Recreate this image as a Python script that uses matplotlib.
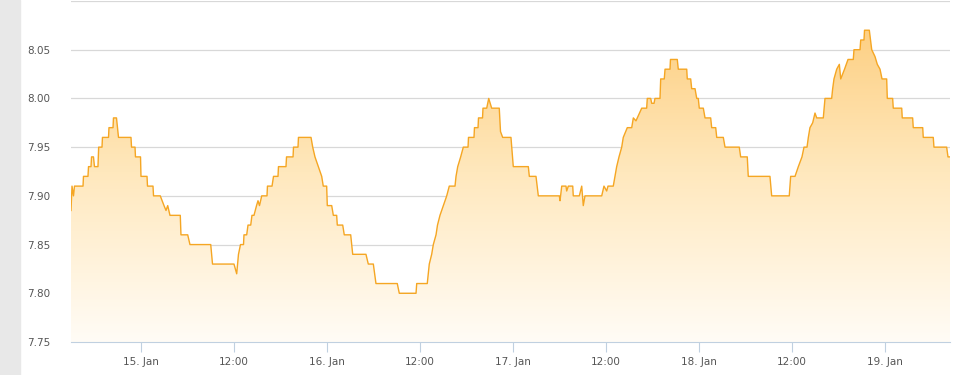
import numpy as np
import matplotlib.pyplot as plt
from matplotlib.patches import Rectangle
from matplotlib.colors import LinearSegmentedColormap

# hours since 14 Jan 15:00, and the reading at that time
hours = [
    0.00, 0.13, 0.32, 0.45, 1.55, 1.61, 2.19, 2.26, 2.58, 2.65, 2.90, 3.03, 3.48, 3.57, 4.00,
    4.06, 4.84, 4.90, 5.42, 5.48, 5.87, 6.13, 7.74, 7.81, 8.26, 8.32, 8.97, 9.03, 9.81, 9.87,
    10.58, 10.65, 11.52, 12.00, 12.26, 12.48, 12.77, 14.10, 14.19, 15.06, 15.35,
    18.03, 18.26, 21.03, 21.38, 21.61, 21.87, 22.26, 22.32, 22.67, 22.84, 23.19, 23.35, 23.61,
    23.94, 24.13, 24.32, 24.61, 25.29, 25.35, 25.94, 26.13, 26.71, 26.77, 27.74, 27.81, 28.65,
    28.71, 29.29, 29.35, 30.97,
    31.19, 31.48, 31.91, 32.35, 32.55, 32.99, 33.07, 33.64, 33.85, 34.28, 34.36, 35.06, 35.26,
    36.09, 36.35, 38.06, 38.36, 39.01, 39.35, 42.10, 42.36, 44.52, 44.61, 45.97, 46.23, 46.54,
    46.75, 47.10, 47.29, 47.61, 48.04, 48.48, 48.81, 49.55, 49.68, 49.90, 50.28, 50.62, 51.23,
    51.29, 52.00, 52.06, 52.52, 52.58, 53.10, 53.16, 53.64, 53.90, 54.28, 55.26, 55.42, 55.70,
    56.77, 57.07, 59.01, 59.14, 60.00, 60.30, 63.01,
    63.10, 63.32, 63.87, 63.96, 64.17, 64.74, 64.81, 65.59, 65.90, 66.10, 66.32, 68.48, 68.77,
    69.12, 69.29, 69.97, 70.19, 70.41, 70.71, 71.06, 71.26, 71.78, 72.35, 72.56, 72.90, 73.07,
    73.64, 74.28, 74.36, 74.80, 74.93, 75.23, 75.35, 76.00, 76.09, 76.55, 76.65, 77.29, 77.35,
    78.23,
    78.36, 79.45, 79.52, 79.96, 80.09, 80.52, 80.74, 80.94, 81.07, 81.59, 81.81, 82.54, 82.67,
    83.19, 83.32, 84.17, 84.39, 86.23, 86.41, 87.26, 87.39, 90.19, 90.41, 92.68, 92.86, 93.42,
    93.85, 94.32, 94.58, 94.97, 95.14, 95.35, 95.70, 96.00, 96.22, 97.07, 97.29, 98.15, 98.28,
    98.45, 98.80, 99.14, 99.32, 99.57, 99.81, 100.26, 100.94, 101.03, 101.81, 101.90, 102.32,
    102.39, 103.01, 103.32, 103.74, 104.04, 104.39, 104.65, 105.25, 105.33, 106.02, 106.10,
    107.19, 107.26, 108.60, 108.68, 109.90, 109.97, 111.26, 111.35, 112.99, 113.16, 113.42,
]
values = [
    7.885, 7.91, 7.90, 7.91, 7.91, 7.92, 7.92, 7.93, 7.93, 7.94, 7.94, 7.93, 7.93, 7.95, 7.95,
    7.96, 7.96, 7.97, 7.97, 7.98, 7.98, 7.96, 7.96, 7.95, 7.95, 7.94, 7.94, 7.92, 7.92, 7.91,
    7.91, 7.90, 7.90, 7.89, 7.885, 7.89, 7.88, 7.88, 7.86, 7.86, 7.85,
    7.85, 7.83, 7.83, 7.82, 7.84, 7.85, 7.85, 7.86, 7.86, 7.87, 7.87, 7.88, 7.88,
    7.89, 7.895, 7.89, 7.90, 7.90, 7.91, 7.91, 7.92, 7.92, 7.93, 7.93, 7.94, 7.94,
    7.95, 7.95, 7.96, 7.96,
    7.95, 7.94, 7.93, 7.92, 7.91, 7.91, 7.89, 7.89, 7.88, 7.88, 7.87, 7.87, 7.86,
    7.86, 7.84, 7.84, 7.83, 7.83, 7.81, 7.81, 7.80, 7.80, 7.81, 7.81, 7.83, 7.84,
    7.85, 7.86, 7.87, 7.88, 7.89, 7.90, 7.91, 7.91, 7.92, 7.93, 7.94, 7.95, 7.95,
    7.96, 7.96, 7.97, 7.97, 7.98, 7.98, 7.99, 7.99, 8.00, 7.99, 7.99, 7.966, 7.96,
    7.96, 7.93, 7.93, 7.92, 7.92, 7.90, 7.90,
    7.895, 7.91, 7.91, 7.905, 7.91, 7.91, 7.90, 7.90, 7.91, 7.89, 7.90, 7.90, 7.91,
    7.905, 7.91, 7.91, 7.92, 7.93, 7.94, 7.95, 7.96, 7.97, 7.97, 7.98, 7.977, 7.98,
    7.99, 7.99, 8.00, 8.00, 7.995, 7.995, 8.00, 8.00, 8.02, 8.02, 8.03, 8.03, 8.04,
    8.04,
    8.03, 8.03, 8.02, 8.02, 8.01, 8.01, 8.00, 8.00, 7.99, 7.99, 7.98, 7.98, 7.97,
    7.97, 7.96, 7.96, 7.95, 7.95, 7.94, 7.94, 7.92, 7.92, 7.90, 7.90, 7.92, 7.92,
    7.93, 7.94, 7.95, 7.95, 7.96, 7.97, 7.975, 7.985, 7.98, 7.98, 8.00, 8.00, 8.01,
    8.02, 8.03, 8.035, 8.02, 8.025, 8.03, 8.04, 8.04, 8.05, 8.05, 8.06, 8.06,
    8.07, 8.07, 8.05, 8.043, 8.035, 8.03, 8.02, 8.02, 8.00, 8.00, 7.99,
    7.99, 7.98, 7.98, 7.97, 7.97, 7.96, 7.96, 7.95, 7.95, 7.94, 7.94,
]

tick_hours = [9, 21, 33, 45, 57, 69, 81, 93, 105]
tick_labels = ["15. Jan", "12:00", "16. Jan", "12:00", "17. Jan", "12:00",
               "18. Jan", "12:00", "19. Jan"]
y_ticks = [7.75, 7.80, 7.85, 7.90, 7.95, 8.00, 8.05, 8.10]

x = np.array(hours)
y = np.array(values)
ymin, ymax = 7.75, 8.10

fig = plt.figure(figsize=(9.59, 3.75), dpi=100)
fig.patches.append(Rectangle((0, 0), 20 / 959, 1, transform=fig.transFigure,
                             color="#e8e8e8", zorder=0))
ax = fig.add_axes([71 / 959, 1 - 342 / 375, 879 / 959, 341 / 375])
ax.set_xlim(x[0], x[-1])
ax.set_ylim(ymin, ymax)

# gradient fill under the line
cmap = LinearSegmentedColormap.from_list("fill", ["#fffcf6", "#ffe8bd", "#fdcb78"])
grad = np.linspace(0, 1, 256).reshape(-1, 1)
img = ax.imshow(grad, cmap=cmap, aspect="auto", origin="lower",
                extent=[x[0], x[-1], ymin, ymax], zorder=1)
poly = ax.fill_between(x, y, ymin, color="none")
img.set_clip_path(poly.get_paths()[0], transform=ax.transData)

ax.plot(x, y, color="#f5a623", lw=1.0, zorder=3)

ax.set_yticks(y_ticks)
ax.set_yticklabels(["" if v == 8.10 else f"{v:.2f}" for v in y_ticks])
ax.set_xticks(tick_hours)
ax.set_xticklabels(tick_labels)
ax.grid(axis="y", color="#d8d8d8", lw=0.9, zorder=0)
ax.set_axisbelow(True)

for s in ["top", "right", "left"]:
    ax.spines[s].set_visible(False)
ax.spines["bottom"].set_color("#c0d0e0")
ax.tick_params(axis="y", length=0, pad=15, labelsize=7.5, labelcolor="#555555")
ax.tick_params(axis="x", length=7, width=0.8, color="#c0d0e0", pad=4,
               labelsize=7.5, labelcolor="#555555")

fig.savefig("out.png", dpi=100)
